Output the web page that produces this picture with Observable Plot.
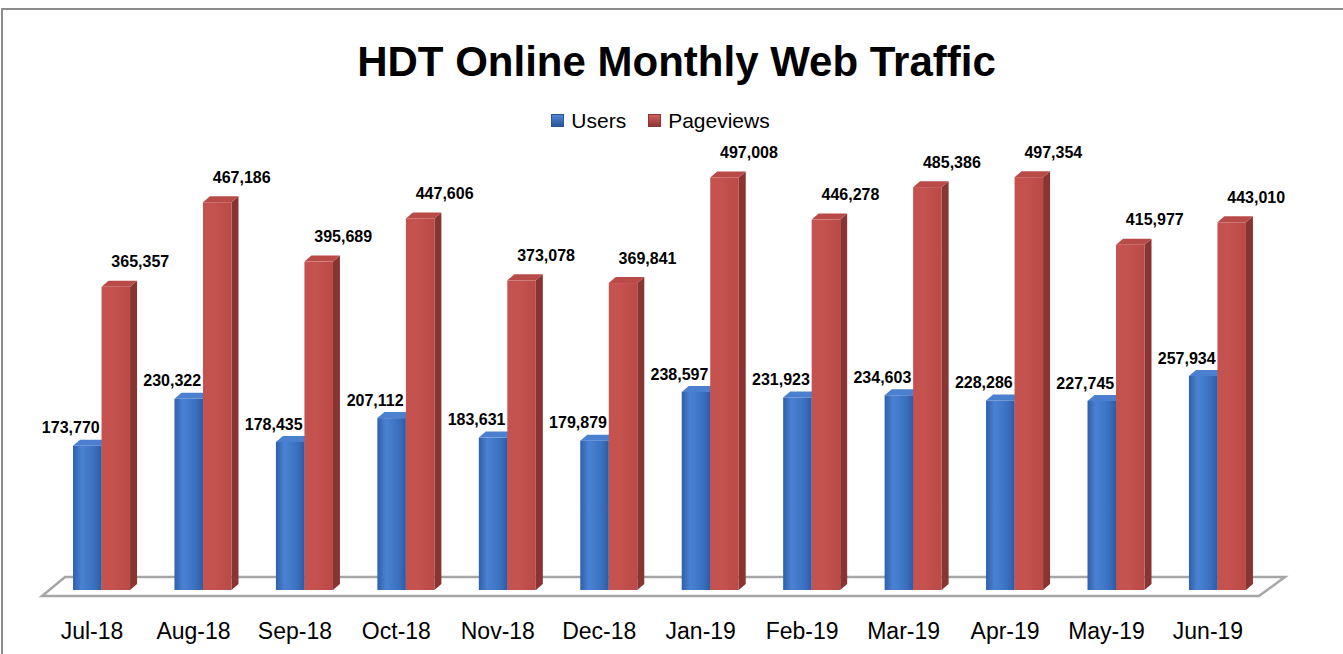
<!DOCTYPE html>
<html>
<head>
<meta charset="utf-8">
<script src="https://cdn.jsdelivr.net/npm/d3@7"></script>
<script src="https://cdn.jsdelivr.net/npm/@observablehq/plot@0.6"></script>
<style>
  html, body { margin: 0; padding: 0; overflow: hidden; background: #fff; width: 1343px; height: 654px; }
  body { font-family: "Liberation Sans", Arial, sans-serif; position: relative; }
  #frame { position: absolute; left: 1px; top: 8px; width: 1400px; height: 700px; border: 2px solid #8c8c8c; box-sizing: border-box; }
  #title { position: absolute; left: 0; width: 1343px; top: 41px; text-align: center; font-weight: bold; font-size: 42px; line-height: 42px; color: #000; padding-left: 10px; box-sizing: border-box; }
  #legend { position: absolute; left: 0; width: 1343px; top: 110px; display: flex; justify-content: center; align-items: center; font-size: 21px; line-height: 21px; color: #000; padding-right: 22px; box-sizing: border-box; }
  .sw { display: inline-block; width: 13px; height: 13px; margin-right: 7px; box-sizing: border-box; }
  .item { display: flex; align-items: center; margin: 0 11px; }
  #chart { position: absolute; left: 0; top: 140px; }
</style>
</head>
<body>
<div id="frame"></div>
<div id="title">HDT Online Monthly Web Traffic</div>
<div id="legend"></div>
<div id="chart"></div>
<script>
const months = ["Jul-18","Aug-18","Sep-18","Oct-18","Nov-18","Dec-18","Jan-19","Feb-19","Mar-19","Apr-19","May-19","Jun-19"];
const seriesNames = ["Users","Pageviews"];
const users = [173770, 230322, 178435, 207112, 183631, 179879, 238597, 231923, 234603, 228286, 227745, 257934];
const pageviews = [365357, 467186, 395689, 447606, 373078, 369841, 497008, 446278, 485386, 497354, 415977, 443010];

const data = months.flatMap((m, i) => [
  {month: m, series: "Users", value: users[i]},
  {month: m, series: "Pageviews", value: pageviews[i]}
]);
const dUsers = data.filter(d => d.series === "Users");
const dPages = data.filter(d => d.series === "Pageviews");

// legend
const legendColors = {Users: ["#4f86d4", "#2a5597"], Pageviews: ["#d0605d", "#8f3633"]};
const legend = document.getElementById("legend");
seriesNames.forEach(s => {
  const it = document.createElement("div");
  it.className = "item";
  const sw = document.createElement("span");
  sw.className = "sw";
  sw.style.background = `linear-gradient(180deg, ${legendColors[s][0]}, ${legendColors[s][1]})`;
  sw.style.border = `1px solid ${legendColors[s][1]}`;
  it.appendChild(sw);
  it.appendChild(document.createTextNode(s));
  legend.appendChild(it);
});

const D = 7, DY = 6; // 3D depth in px
function extrude(topColor, sideColor) {
  return function(index, scales, values, dimensions, context, next) {
    const el = next(index, scales, values, dimensions, context);
    const rects = Array.from(el.querySelectorAll("rect"));
    for (const r of rects) {
      const x = +r.getAttribute("x"), y = +r.getAttribute("y");
      const w = +r.getAttribute("width"), h = +r.getAttribute("height");
      const x1 = x, x2 = x + w, top = y, bot = y + h;
      const side = document.createElementNS("http://www.w3.org/2000/svg", "polygon");
      side.setAttribute("points", `${x2},${bot} ${x2 + D},${bot - DY} ${x2 + D},${top - DY} ${x2},${top}`);
      side.setAttribute("fill", sideColor);
      const cap = document.createElementNS("http://www.w3.org/2000/svg", "polygon");
      cap.setAttribute("points", `${x1},${top} ${x1 + D},${top - DY} ${x2 + D},${top - DY} ${x2},${top}`);
      cap.setAttribute("fill", topColor);
      r.parentNode.insertBefore(side, r);
      r.parentNode.insertBefore(cap, r);
      r.remove();
    }
    return el;
  };
}

const fmt = d3.format(",");
const common = {fx: "month", x: "series", y: "value"};

const plot = Plot.plot({
  width: 1343,
  height: 514,
  marginLeft: 28.6,
  marginRight: 52.6,
  marginTop: 35,
  marginBottom: 64,
  style: {fontFamily: "Liberation Sans, Arial, sans-serif", background: "transparent", overflow: "visible"},
  fx: {domain: months, paddingInner: 0.438, paddingOuter: 0.438, round: false, label: null, axis: null},
  x: {domain: seriesNames, padding: 0, round: false, axis: null},
  y: {domain: [0, 500000], axis: null},
  marks: [
    Plot.barY(dUsers, {...common, fill: "#3d71c0", render: extrude("#4a80cf", "#28528f")}),
    Plot.barY(dUsers, {...common, fill: "url(#gBlue)"}),
    Plot.barY(dPages, {...common, fill: "#c0504d", render: extrude("#b84a47", "#8a3431")}),
    Plot.barY(dPages, {...common, fill: "url(#gRed)"}),
    Plot.text(dUsers, {...common, text: d => fmt(d.value), dx: -17, dy: -18, lineAnchor: "middle",
      fontWeight: "bold", fontSize: 16, fill: "#000"}),
    Plot.text(dPages, {...common, text: d => fmt(d.value), dx: 24, dy: -25, lineAnchor: "middle",
      fontWeight: "bold", fontSize: 16, fill: "#000"}),
    Plot.axisFx({domain: months, anchor: "bottom", tickSize: 0, tickPadding: 32, fontSize: 23, dx: -10, label: null, fill: "#000"})
  ]
});

// gradients
const ns = "http://www.w3.org/2000/svg";
const defs = document.createElementNS(ns, "defs");
defs.innerHTML = `
  <linearGradient id="gBlue" x1="0" y1="0" x2="1" y2="0">
    <stop offset="0" stop-color="#2e5fab"/>
    <stop offset="0.3" stop-color="#4a82d3"/>
    <stop offset="0.75" stop-color="#3b70c0"/>
    <stop offset="1" stop-color="#2c5ba4"/>
  </linearGradient>
  <linearGradient id="gRed" x1="0" y1="0" x2="1" y2="0">
    <stop offset="0" stop-color="#c5524f"/>
    <stop offset="0.4" stop-color="#c4524f"/>
    <stop offset="1" stop-color="#ba4a47"/>
  </linearGradient>`;
plot.insertBefore(defs, plot.firstChild);

// floor (3D base plane) derived from the fx scale
const fxs = plot.scale("fx");
const ys = plot.scale("y");
const left = fxs.apply(months[0]);
const right = fxs.apply(months[months.length - 1]) + fxs.bandwidth;
const base = ys.apply(0);
const floor = document.createElementNS(ns, "polygon");
floor.setAttribute("points",
  `${left - 31},${base + 6} ${right + 13},${base + 6} ${right + 39},${base - 13} ${left - 8},${base - 13}`);
floor.setAttribute("fill", "#fff");
floor.setAttribute("stroke", "#a6a6a6");
floor.setAttribute("stroke-width", "2.5");
plot.insertBefore(floor, defs.nextSibling);

document.getElementById("chart").appendChild(plot);
</script>
</body>
</html>
